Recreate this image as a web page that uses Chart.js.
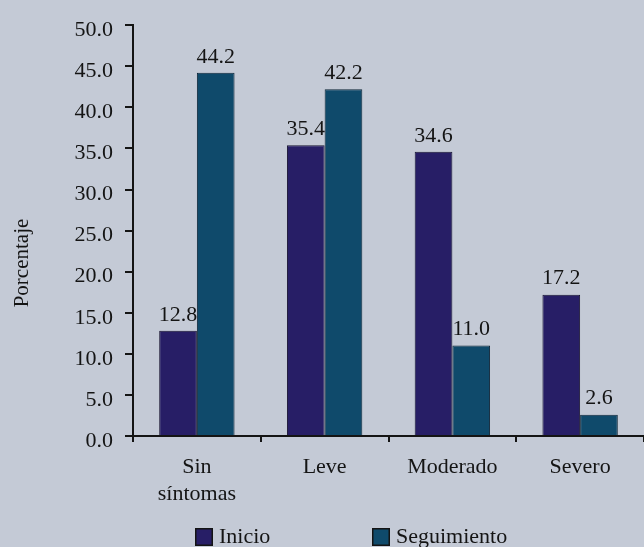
<!DOCTYPE html>
<html>
<head>
<meta charset="utf-8">
<script src="https://cdn.jsdelivr.net/npm/chart.js@4/dist/chart.umd.min.js"></script>
<style>
  html, body { margin: 0; padding: 0; background: #c4cad6; }
  #wrap { width: 644px; height: 547px; position: relative; }
</style>
</head>
<body>
<div id="wrap"><canvas id="mainChart"></canvas></div>
<script>
// categorias y porcentajes
const categorias = [['Sin', 'síntomas'], 'Leve', 'Moderado', 'Severo'];
const inicio = [12.8, 35.4, 34.6, 17.2];
const seguimiento = [44.2, 42.2, 11.0, 2.6];
const nombresSeries = ['Inicio', 'Seguimiento'];
const coloresSeries = ['#271e66', '#0f4a6b'];
const tituloY = 'Porcentaje';

const fuente = "'Liberation Serif', 'DejaVu Serif', serif";
const tinta = '#141414';

// etiquetas de valor encima de cada barra
const etiquetasValor = {
    id: 'etiquetasValor',
    afterDatasetsDraw(chart) {
        const ctx = chart.ctx;
        ctx.save();
        ctx.font = '22px ' + fuente;
        ctx.fillStyle = tinta;
        ctx.textAlign = 'center';
        ctx.textBaseline = 'bottom';
        chart.data.datasets.forEach((ds, i) => {
            chart.getDatasetMeta(i).data.forEach((bar, j) => {
                ctx.fillText(ds.data[j].toFixed(1), bar.x, bar.y - 5);
            });
        });
        ctx.restore();
    }
};

// titulo vertical del eje y
const tituloEje = {
    id: 'tituloEje',
    afterDraw(chart) {
        const ctx = chart.ctx;
        ctx.save();
        ctx.translate(22, 263);
        ctx.rotate(-Math.PI / 2);
        ctx.font = '21px ' + fuente;
        ctx.fillStyle = tinta;
        ctx.textAlign = 'center';
        ctx.textBaseline = 'middle';
        ctx.fillText(tituloY, 0, 0);
        ctx.restore();
    }
};

// leyenda inferior
const leyenda = {
    id: 'leyenda',
    afterDraw(chart) {
        const ctx = chart.ctx;
        const xs = [195, 372];
        const y = 537;
        ctx.save();
        ctx.font = '22px ' + fuente;
        ctx.textBaseline = 'middle';
        chart.data.datasets.forEach((ds, i) => {
            ctx.fillStyle = ds.backgroundColor;
            ctx.fillRect(xs[i], y - 9, 18, 18);
            ctx.strokeStyle = tinta;
            ctx.lineWidth = 1.5;
            ctx.strokeRect(xs[i] + 0.75, y - 8.25, 16.5, 16.5);
            ctx.fillStyle = tinta;
            ctx.fillText(ds.label, xs[i] + 24, y);
        });
        ctx.restore();
    }
};

new Chart(document.getElementById('mainChart'), {
    type: 'bar',
    data: {
        labels: categorias,
        datasets: [
            { label: nombresSeries[0], data: inicio, backgroundColor: coloresSeries[0],
              borderColor: '#1a1633', borderWidth: 1 },
            { label: nombresSeries[1], data: seguimiento, backgroundColor: coloresSeries[1],
              borderColor: '#10283a', borderWidth: 1 }
        ]
    },
    options: {
        responsive: true,
        maintainAspectRatio: false,
        animation: false,
        layout: { padding: { top: 19, left: 0, right: 0, bottom: 0 } },
        datasets: { bar: { barPercentage: 1, categoryPercentage: 0.59 } },
        plugins: {
            legend: { display: false },
            tooltip: { enabled: false }
        },
        scales: {
            x: {
                afterFit(scale) { scale.height = 111; },
                grid: { drawOnChartArea: false, tickLength: 6, color: tinta, lineWidth: 2 },
                border: { display: true, color: tinta, width: 2 },
                ticks: { color: tinta, padding: 11, font: { family: fuente, size: 22, lineHeight: 1.25 } }
            },
            y: {
                min: 0,
                max: 50,
                afterFit(scale) { scale.width = 133; },
                grid: { drawOnChartArea: false, tickLength: 8, color: tinta, lineWidth: 2 },
                border: { display: true, color: tinta, width: 2 },
                ticks: {
                    stepSize: 5,
                    color: tinta,
                    padding: 12,
                    labelOffset: 5,
                    font: { family: fuente, size: 22 },
                    callback: v => v.toFixed(1)
                }
            }
        }
    },
    plugins: [etiquetasValor, tituloEje, leyenda]
});
</script>
</body>
</html>
